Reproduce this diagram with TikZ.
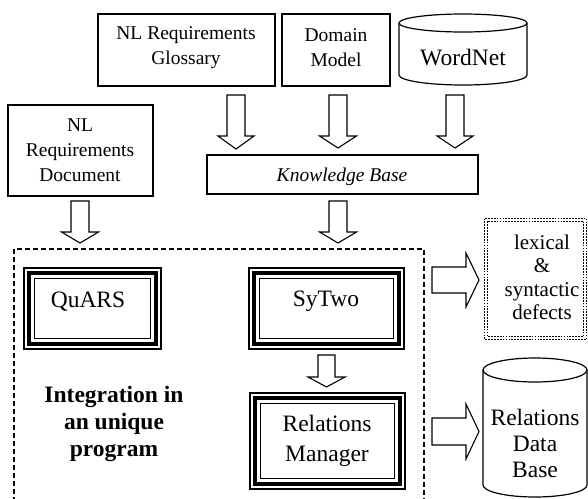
\documentclass[tikz,border=0pt]{standalone}
\usepackage{fontspec}
\setmainfont{Liberation Serif}
\tikzset{
  box/.style={draw, line width=1.2pt},
  blk/.style={draw, line width=1.1pt, fill=white, line join=miter},
  dotrow/.style={draw, line width=1.7pt, dash pattern=on 1.7pt off 1.2pt},
  small/.style={font=\fontsize{19.5}{25}\selectfont, align=center, inner sep=0pt},
  big/.style={font=\fontsize{23.5}{27}\selectfont, align=center, inner sep=0pt},
}
% downward block arrow: centre x, top, head start, tip, shaft half width, head half width
\newcommand\blkdown[6]{%
  \draw[blk] (#1-#5,#2) -- (#1+#5,#2) -- (#1+#5,#3) -- (#1+#6,#3) -- (#1,#4)
    -- (#1-#6,#3) -- (#1-#5,#3) -- cycle;}
% rightward block arrow: left x, head start x, tip x, centre y, shaft half, head half
\newcommand\blkright[6]{%
  \draw[blk] (#1,#4-#5) -- (#2,#4-#5) -- (#2,#4-#6) -- (#3,#4) -- (#2,#4+#6)
    -- (#2,#4+#5) -- (#1,#4+#5) -- cycle;}
% program box with a thin / thick / thin frame
\newcommand\tribox[4]{%
  \draw[line width=1.5pt] (#1+0.8,#2+0.8) rectangle (#3-0.8,#4-0.8);
  \draw[line width=4.4pt] (#1+6.2,#2+6.2) rectangle (#3-6.2,#4-6.2);
  \draw[line width=1.4pt] (#1+11.7,#2+11.7) rectangle (#3-11.7,#4-11.7);}
\begin{document}
\begin{tikzpicture}[x=1pt, y=-1pt]
\useasboundingbox (0,0) rectangle (588,498);

% sources
\draw[box] (98,14) rectangle (275,86);
\node[small] (gloss) at (186,48) {NL Requirements\\Glossary};
\draw[box] (282,14) rectangle (390,86);
\node[small] (domain) at (336,48) {Domain\\Model};
% WordNet cylinder
\draw[box] (463,23) ellipse [x radius=64, y radius=9];
\draw[box] (399,23) -- (399,75) arc [start angle=180, end angle=0, x radius=64, y radius=10] -- (527,23);
\node[big] (wordnet) at (463,58) {WordNet};

\draw[box] (8,105) rectangle (153,196);
\node[small] (nldoc) at (80,150) {NL\\Requirements\\Document};
\draw[box] (207,155) rectangle (478,194);
\node[small] (kb) at (342,177) {\itshape Knowledge Base};

% arrows into the knowledge base and the program
\blkdown{236}{95}{136}{149}{9}{18}
\blkdown{338}{95}{136}{148}{9}{18.5}
\blkdown{455}{95}{136}{148}{9}{18}
\blkdown{80}{201}{232}{243}{9}{18.5}
\blkdown{338}{201}{232}{243}{9}{18.5}

% integrated program
\draw[line width=1.3pt, dash pattern=on 5pt off 3pt] (14,510) -- (14,249) -- (424,249) -- (424,510);
\tribox{23}{267}{162}{350}
\node[big] (quars) at (88,301.5) {QuARS};
\tribox{248}{267}{405}{350}
\node[big] (sytwo) at (326,301.5) {SyTwo};
\tribox{249}{392}{406}{490}
\node[big, font=\fontsize{23.5}{30}\selectfont] (relman) at (327,441) {Relations\\Manager};
\node[big, font=\bfseries\fontsize{23.5}{27}\selectfont] (integ) at (114,423.5) {Integration in\\an unique\\program};
\blkdown{326.5}{355}{377}{387}{8.5}{18.5}

% outputs
\blkright{432}{466}{479}{280}{13}{27}
\blkright{432}{466}{479}{431.5}{13.5}{27.5}
% double row of dots round the defects
\draw[dotrow] (484.5,218.5) rectangle (586.5,339.5);
\draw[dotrow] (487.4,221.4) rectangle (583.6,336.6);
\node[big, font=\fontsize{21}{23.5}\selectfont] (defects) at (542,277.5) {lexical\\\&\\syntactic\\defects};
% Relations Data Base cylinder
\draw[box] (535,370) ellipse [x radius=52, y radius=12];
\draw[box] (483,370) -- (483,485) arc [start angle=180, end angle=0, x radius=52, y radius=12] -- (587,370);
\begin{scope}
  \clip (483,382) rectangle (587,477);
  \node[big, font=\fontsize{23.5}{26}\selectfont] (reldb) at (535,443) {Relations\\Data\\Base};
\end{scope}
\end{tikzpicture}
\end{document}
